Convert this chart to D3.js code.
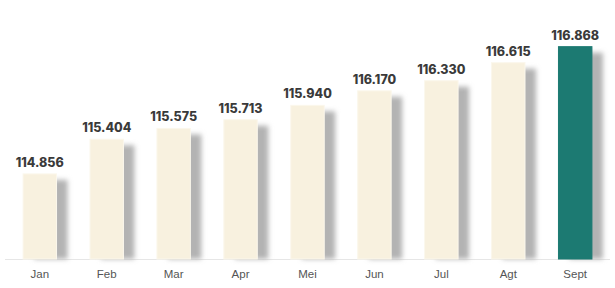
<!DOCTYPE html>
<html>
<head>
<meta charset="utf-8">
<script src="https://cdn.jsdelivr.net/npm/d3@7"></script>
<style>
  body { margin: 0; background: #fff; }
  svg { display: block; }
</style>
</head>
<body>
<figure id="chart" style="margin:0"></figure>
<script>
let widthFigure = 615;
let heightFigure = 288;

let months = ['Jan', 'Feb', 'Mar', 'Apr', 'Mei', 'Jun', 'Jul', 'Agt', 'Sept'];
let values = [114.856, 115.404, 115.575, 115.713, 115.940, 116.170, 116.330, 116.615, 116.868];
let labels = ['114.856', '115.404', '115.575', '115.713', '115.940', '116.170', '116.330', '116.615', '116.868'];

let baseY = 259;

let xScale = d3.scaleBand()
    .domain(months)
    .range([5, 610])
    .paddingInner(0.5)
    .paddingOuter(0.27);

let yScale = d3.scaleLinear()
    .domain([113.51, 117.1])
    .range([baseY, 32]);

let svg = d3.select('#chart')
    .append('svg')
    .attr('width', widthFigure)
    .attr('height', heightFigure);

// soft grey shadow to the right of each bar
let defs = svg.append('defs');
let f = defs.append('filter')
    .attr('id', 'shadow')
    .attr('x', '-50%').attr('y', '-20%')
    .attr('width', '200%').attr('height', '140%');
f.append('feGaussianBlur').attr('stdDeviation', 2.5);

// axis line
svg.append('line')
    .attr('x1', 5).attr('x2', 610)
    .attr('y1', baseY + 0.5).attr('y2', baseY + 0.5)
    .attr('stroke', '#e6e6e6')
    .attr('stroke-width', 1);

let g = svg.selectAll('g.bar')
    .data(months)
    .enter()
    .append('g')
    .attr('class', 'bar');

g.append('rect')
    .attr('x', d => xScale(d) + 11)
    .attr('y', (d, i) => yScale(values[i]) + 6)
    .attr('width', xScale.bandwidth())
    .attr('height', (d, i) => baseY - yScale(values[i]) - 6)
    .attr('fill', '#b3b3b3')
    .attr('filter', 'url(#shadow)');

g.append('rect')
    .attr('x', d => xScale(d))
    .attr('y', (d, i) => yScale(values[i]))
    .attr('width', xScale.bandwidth())
    .attr('height', (d, i) => baseY - yScale(values[i]))
    .attr('fill', (d, i) => i == months.length - 1 ? '#1c7a72' : '#f8f1df')
    .attr('stroke', (d, i) => i == months.length - 1 ? '#1c7a72' : '#fbf7ec')
    .attr('stroke-width', 1);

g.append('text')
    .attr('x', d => xScale(d) + xScale.bandwidth() / 2)
    .attr('y', (d, i) => yScale(values[i]) - 7)
    .attr('text-anchor', 'middle')
    .attr('font-family', 'Inter, "Open Sans", sans-serif')
    .attr('font-weight', 800)
    .attr('font-size', '12.5px')
    .attr('fill', '#3a3a3a')
    .text((d, i) => labels[i]);

g.append('text')
    .attr('x', d => xScale(d) + xScale.bandwidth() / 2)
    .attr('y', 278)
    .attr('text-anchor', 'middle')
    .attr('font-family', '"Liberation Sans", Arial, sans-serif')
    .attr('font-size', '11.5px')
    .attr('fill', '#555')
    .text(d => d);
</script>
</body>
</html>
